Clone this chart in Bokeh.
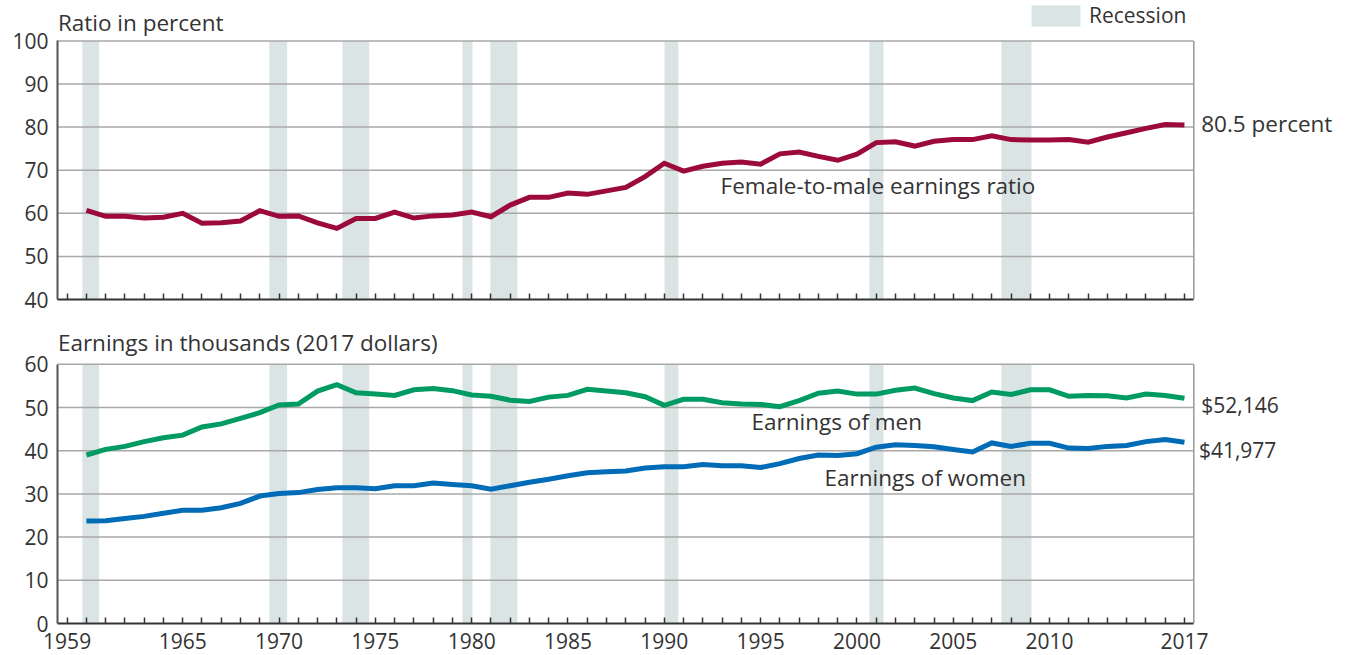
from bokeh.plotting import figure
from bokeh.layouts import column
from bokeh.models import FixedTicker, Label, Range1d, Legend, LegendItem
from bokeh.embed import file_html
from bokeh.resources import INLINE

years = list(range(1960, 2018))

ratio = [60.7, 59.3, 59.3, 58.9, 59.1, 60.0, 57.7, 57.8, 58.2, 60.6,
         59.3, 59.4, 57.8, 56.5, 58.8, 58.8, 60.3, 58.9, 59.4, 59.6,
         60.3, 59.2, 61.9, 63.7, 63.7, 64.7, 64.4, 65.2, 66.0, 68.5,
         71.6, 69.8, 70.9, 71.6, 71.9, 71.4, 73.8, 74.2, 73.2, 72.3,
         73.7, 76.4, 76.6, 75.6, 76.7, 77.1, 77.1, 78.0, 77.1, 77.0,
         77.0, 77.1, 76.5, 77.7, 78.7, 79.7, 80.6, 80.5]

men = [39.0, 40.3, 41.0, 42.1, 43.0, 43.6, 45.5, 46.2, 47.5, 48.8,
       50.6, 50.8, 53.8, 55.3, 53.4, 53.1, 52.8, 54.1, 54.4, 53.9,
       52.9, 52.6, 51.7, 51.4, 52.4, 52.8, 54.2, 53.8, 53.4, 52.5,
       50.5, 51.9, 51.9, 51.1, 50.8, 50.7, 50.2, 51.6, 53.3, 53.8,
       53.1, 53.1, 54.0, 54.5, 53.2, 52.2, 51.6, 53.6, 53.0, 54.1,
       54.1, 52.6, 52.8, 52.7, 52.2, 53.1, 52.8, 52.146]

women = [23.7, 23.8, 24.3, 24.8, 25.5, 26.2, 26.2, 26.8, 27.8, 29.5,
         30.1, 30.3, 31.0, 31.4, 31.4, 31.2, 31.9, 31.9, 32.5, 32.2,
         31.9, 31.1, 31.9, 32.7, 33.4, 34.2, 34.9, 35.1, 35.3, 36.0,
         36.3, 36.3, 36.8, 36.5, 36.5, 36.1, 37.0, 38.2, 39.0, 38.9,
         39.3, 40.8, 41.4, 41.2, 40.9, 40.3, 39.7, 41.8, 41.0, 41.7,
         41.7, 40.6, 40.5, 41.0, 41.2, 42.1, 42.6, 41.977]

rec_start = [1959.79, 1969.5, 1973.29, 1979.52, 1980.97, 1990.01, 2000.65, 2007.5]
rec_end = [1960.66, 1970.42, 1974.68, 1980.04, 1982.37, 1990.73, 2001.38, 2009.06]

tick_years = list(range(1959, 2018))
label_years = [1959, 1965, 1970, 1975, 1980, 1985, 1990, 1995, 2000, 2005, 2010, 2017]

ratio_ticks = [40, 50, 60, 70, 80, 90, 100]
earn_ticks = [0, 10, 20, 30, 40, 50, 60]

FONT = "Open Sans"
TXT = "#333333"
MAROON = "#9c0a3c"
GREEN = "#009a63"
BLUE = "#006bb6"
SHADE = "#dbe4e5"
GRID = "#a8a8a8"
BORDER = "#9a9a9a"

PX_PER_YEAR = 19.264
X0 = 1958.5          # left edge of plot box (y axis)
X1 = 2017.485        # right edge of plot box
FW = 1285            # frame spans to the right edge so end labels fit
XEND = X0 + FW / PX_PER_YEAR


def make_fig(y0, y1, yticks, px_per_unit, frame_h, min_bottom, show_xlabels):
    yend = y0 + frame_h / px_per_unit
    p = figure(frame_width=FW, frame_height=frame_h, output_backend="svg",
               toolbar_location=None, x_range=Range1d(X0, XEND),
               y_range=Range1d(y0, yend),
               min_border_left=57, min_border_right=0,
               min_border_top=0, min_border_bottom=min_bottom)
    p.background_fill_color = "white"
    p.border_fill_color = "white"
    p.outline_line_color = None
    p.xgrid.visible = False
    p.ygrid.visible = False

    p.yaxis.ticker = FixedTicker(ticks=yticks)
    p.yaxis.bounds = (y0, y1)
    p.yaxis.major_tick_in = 0
    p.yaxis.major_tick_out = 0
    p.yaxis.minor_tick_in = 0
    p.yaxis.minor_tick_out = 0
    p.yaxis.axis_line_color = "#555555"
    p.yaxis.axis_line_width = 2
    p.yaxis.major_label_text_font = FONT
    p.yaxis.major_label_text_font_size = "21px"
    p.yaxis.major_label_text_color = TXT
    p.yaxis.major_label_standoff = 9

    p.xaxis.ticker = FixedTicker(ticks=tick_years)
    p.xaxis.bounds = (X0, X1)
    p.xaxis.major_tick_in = 6
    p.xaxis.major_tick_out = 0
    p.xaxis.minor_tick_in = 0
    p.xaxis.minor_tick_out = 0
    p.xaxis.major_tick_line_color = "#333333"
    p.xaxis.major_tick_line_width = 1.5
    p.xaxis.axis_line_color = "#333333"
    p.xaxis.axis_line_width = 2
    overrides = {}
    for y in tick_years:
        overrides[y] = str(y) if (show_xlabels and y in label_years) else ""
    p.xaxis.major_label_overrides = overrides
    p.xaxis.major_label_text_font = FONT
    p.xaxis.major_label_text_font_size = "21px" if show_xlabels else "1px"
    p.xaxis.major_label_text_color = TXT
    p.xaxis.major_label_standoff = 9 if show_xlabels else 0

    # recession shading
    rec = p.quad(left=rec_start, right=rec_end, bottom=y0, top=y1,
                 fill_color=SHADE, line_color=None)
    # horizontal grid lines (stop at the plot box's right edge)
    inner = [t for t in yticks if t != y0]
    p.segment(x0=X0, x1=X1, y0=inner, y1=inner,
              line_color=GRID, line_width=1.5)
    # right border of the plot box
    p.segment(x0=[X1], x1=[X1], y0=[y0], y1=[y1],
              line_color=BORDER, line_width=1.5)
    return p, rec


def label(p, x, y, text, size="22.5px"):
    p.add_layout(Label(x=x, y=y, text=text, text_font=FONT,
                       text_font_size=size, text_color=TXT,
                       text_align="left", text_baseline="alphabetic"))


# Top panel: ratio (frame from page y 0 to 299)
p1, rec1 = make_fig(40, 100, ratio_ticks, 4.31, 299, 16, False)
p1.line(years, ratio, line_color=MAROON, line_width=5, line_join="miter")
label(p1, 1958.52, 104.27, "Ratio in percent")
label(p1, 2017.87, 80.84, "80.5 percent")
label(p1, 1992.92, 66.38, "Female-to-male earnings ratio")

legend = Legend(items=[LegendItem(label="Recession", renderers=[rec1])],
                location=(968, 270), glyph_width=61, glyph_height=27,
                label_standoff=3, padding=0, margin=0, spacing=0,
                border_line_color=None, background_fill_alpha=0,
                label_text_font=FONT, label_text_font_size="21px",
                label_text_color=TXT, label_height=27)
p1.add_layout(legend)

# Bottom panel: earnings (frame from page y 315 to 623)
p2, rec2 = make_fig(0, 60, earn_ticks, 4.32, 308, 30, True)
p2.line(years, men, line_color=GREEN, line_width=5, line_join="miter")
p2.line(years, women, line_color=BLUE, line_width=5, line_join="miter")
label(p2, 1958.52, 65.04, "Earnings in thousands (2017 dollars)")
label(p2, 2017.87, 50.53, "$52,146", "21px")
label(p2, 2017.75, 40.21, "$41,977", "21px")
label(p2, 1994.53, 46.76, "Earnings of men")
label(p2, 1998.32, 33.79, "Earnings of women")

layout = column(p1, p2, spacing=0)
open("out.html", "w").write(file_html(layout, INLINE))
